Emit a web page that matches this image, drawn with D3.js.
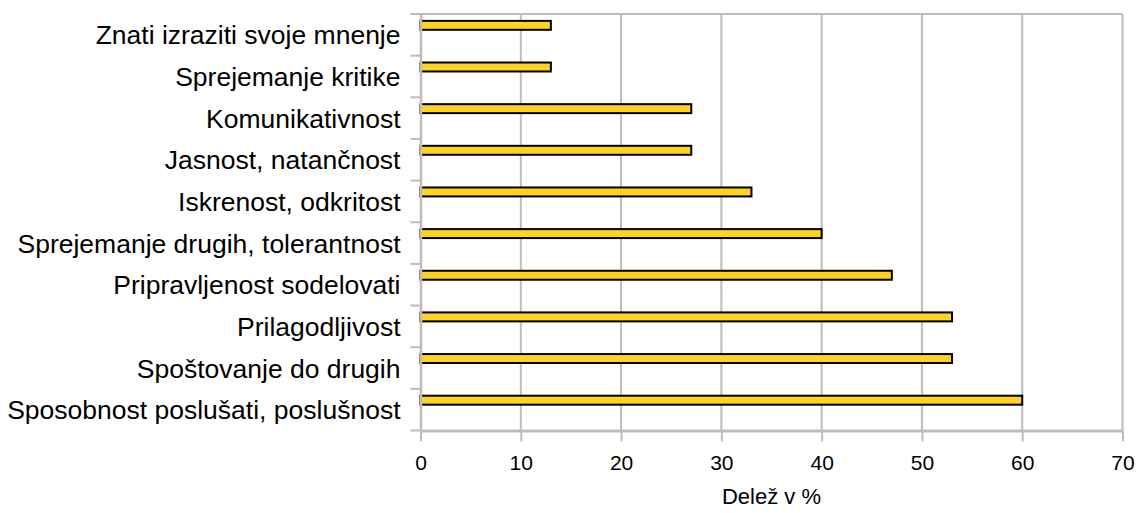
<!DOCTYPE html>
<html>
<head>
<meta charset="utf-8">
<script src="https://cdn.jsdelivr.net/npm/d3@7"></script>
<style>
  html, body { margin: 0; padding: 0; background: #fff; }
  svg { display: block; font-family: "Liberation Sans", Arial, sans-serif; }
</style>
</head>
<body>
<svg id="chart" width="1137" height="513"></svg>
<script>
// Categories, top to bottom
const categories = [
  "Znati izraziti svoje mnenje",
  "Sprejemanje kritike",
  "Komunikativnost",
  "Jasnost, natančnost",
  "Iskrenost, odkritost",
  "Sprejemanje drugih, tolerantnost",
  "Pripravljenost sodelovati",
  "Prilagodljivost",
  "Spoštovanje do drugih",
  "Sposobnost poslušati, poslušnost"
];
// Share in %
const shares = [13, 13, 27, 27, 33, 40, 47, 53, 53, 60];
const xTicks = [0, 10, 20, 30, 40, 50, 60, 70];
const xTitle = "Delež v %";

const svg = d3.select("#chart");
const plotLeft = 420.5, plotRight = 1122.5, plotTop = 14, plotBottom = 430.5;

const x = d3.scaleLinear().domain([0, 70]).range([plotLeft, plotRight]);
const y = d3.scaleBand().domain(categories).range([plotTop, plotBottom]).padding(0);
const bw = y.bandwidth();

const grid = "#bdbdbd";

// vertical gridlines
svg.append("g").selectAll("line")
  .data(xTicks.slice(1))
  .join("line")
  .attr("x1", d => x(d)).attr("x2", d => x(d))
  .attr("y1", plotTop).attr("y2", plotBottom)
  .attr("stroke", grid).attr("stroke-width", 2);

// top border
svg.append("line")
  .attr("x1", plotLeft - 10).attr("x2", plotRight)
  .attr("y1", plotTop).attr("y2", plotTop)
  .attr("stroke", grid).attr("stroke-width", 2);

// bars
svg.append("g").selectAll("rect")
  .data(categories.map((c, i) => ({ c, v: shares[i] })))
  .join("rect")
  .attr("x", x(0))
  .attr("y", d => y(d.c) + bw * 0.165)
  .attr("width", d => x(d.v) - x(0))
  .attr("height", bw * 0.215)
  .attr("fill", "#ffd320")
  .attr("stroke", "#000")
  .attr("stroke-width", 2);

// y axis
const yAxis = svg.append("g")
  .attr("transform", `translate(${plotLeft},0)`)
  .call(d3.axisLeft(y).tickSize(0).tickPadding(20));
yAxis.select(".domain").attr("stroke", grid).attr("stroke-width", 2.5);
yAxis.selectAll("text")
  .attr("font-size", 26.5).attr("fill", "#000")
  .attr("dy", "0.36em")
  .attr("font-family", "'Liberation Sans', Arial, sans-serif");

// category boundary ticks
const bounds = categories.map(c => y(c)).concat([plotBottom]);
svg.append("g").selectAll("line")
  .data(bounds)
  .join("line")
  .attr("x1", plotLeft - 10).attr("x2", plotLeft)
  .attr("y1", d => d).attr("y2", d => d)
  .attr("stroke", grid).attr("stroke-width", 2);

// x axis
const xAxis = svg.append("g")
  .attr("transform", `translate(0,${plotBottom})`)
  .call(d3.axisBottom(x).tickValues(xTicks).tickSize(11).tickPadding(14).tickSizeOuter(0));
xAxis.select(".domain").attr("stroke", grid).attr("stroke-width", 3);
xAxis.selectAll(".tick line").attr("stroke", grid).attr("stroke-width", 2);
xAxis.selectAll("text")
  .attr("font-size", 21).attr("fill", "#000")
  .attr("font-family", "'Liberation Sans', Arial, sans-serif");

// x axis title
svg.append("text")
  .attr("x", (plotLeft + plotRight) / 2)
  .attr("y", 504)
  .attr("text-anchor", "middle")
  .attr("font-size", 22)
  .attr("fill", "#000")
  .text(xTitle);
</script>
</body>
</html>
